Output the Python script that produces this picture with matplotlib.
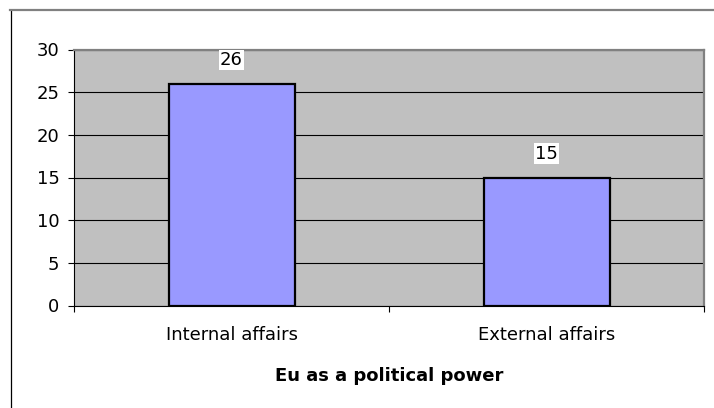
"""Bar chart: Eu as a political power (internal vs external affairs)."""
import matplotlib
matplotlib.use("Agg")
import matplotlib.pyplot as plt
from matplotlib.lines import Line2D

categories = ["Internal affairs", "External affairs"]
values = [26, 15]
y_ticks = [0, 5, 10, 15, 20, 25, 30]
x_title = "Eu as a political power"

W, H = 714, 408
fig = plt.figure(figsize=(W / 100, H / 100), dpi=100)
fig.patch.set_facecolor("white")

# plot area in pixels: left 74, right 704, top 49.5, bottom 305.5
ax = fig.add_axes([74 / W, (H - 305.5) / H, (704 - 74) / W, (305.5 - 49.5) / H])
ax.set_facecolor("#C0C0C0")

x = list(range(len(categories)))
bars = ax.bar(x, values, width=0.4, color="#9999FF", edgecolor="black",
              linewidth=1.6, zorder=3)

for xi, v in zip(x, values):
    ax.annotate(str(v), (xi, v), xytext=(0, 17), textcoords="offset points",
                ha="center", va="center", fontsize=13,
                bbox=dict(facecolor="white", edgecolor="none", pad=1), zorder=4)

ax.set_xlim(-0.5, len(categories) - 0.5)
ax.set_ylim(0, 30)
ax.set_yticks(y_ticks)
ax.yaxis.grid(True, color="black", linewidth=0.8, zorder=1)
ax.set_axisbelow(True)

ax.set_xticks(x)
ax.set_xticklabels(categories, fontsize=13)
ax.set_xticks([i - 0.5 for i in range(len(categories) + 1)], minor=True)
ax.tick_params(axis="x", which="major", length=0, pad=15)
ax.tick_params(axis="x", which="minor", length=4.5, width=0.8, direction="out")
ax.tick_params(axis="y", length=4.5, width=0.8, direction="out", pad=6, labelsize=13)

ax.set_xlabel(x_title, fontsize=13, fontweight="bold", labelpad=16)

for side in ("top", "right"):
    ax.spines[side].set_color("#808080")
    ax.spines[side].set_linewidth(1.6)
for side in ("left", "bottom"):
    ax.spines[side].set_color("black")
    ax.spines[side].set_linewidth(0.8)

# outer chart border (only top and left visible in the crop)
fig.add_artist(Line2D([10.5 / W, 10.5 / W], [0, 1 - 9.5 / H], transform=fig.transFigure,
                      color="black", linewidth=0.9))
fig.add_artist(Line2D([10 / W, 1], [1 - 9.5 / H, 1 - 9.5 / H], transform=fig.transFigure,
                      color="#808080", linewidth=1.6))

fig.savefig("out.png", dpi=100)
